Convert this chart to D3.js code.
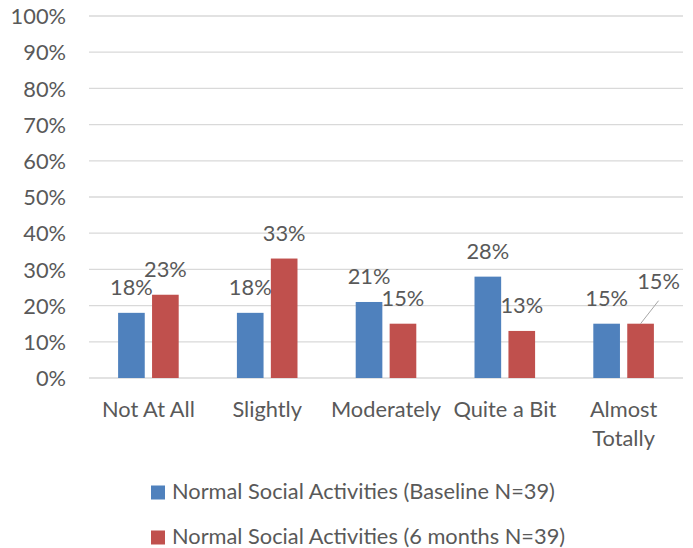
<!DOCTYPE html>
<html>
<head>
<meta charset="utf-8">
<script src="https://cdn.jsdelivr.net/npm/d3@7"></script>
<style>
  html, body { margin: 0; padding: 0; background: #ffffff; }
  svg { display: block; }
  text { font-family: Lato, "Liberation Sans", sans-serif; fill: #595959; }
</style>
</head>
<body>
<svg id="chart" width="693" height="548"></svg>
<script>
const categories = ["Not At All", "Slightly", "Moderately", "Quite a Bit", "Almost Totally"];
const seriesNames = ["Normal Social Activities (Baseline N=39)", "Normal Social Activities (6 months N=39)"];
const baseline = [18, 18, 21, 28, 15];
const sixMonths = [23, 33, 15, 13, 15];
const yTicks = [0, 10, 20, 30, 40, 50, 60, 70, 80, 90, 100];
const colors = ["#4F81BD", "#C0504D"];

const svg = d3.select("#chart");
const plotLeft = 89, plotRight = 683, plotTop = 16, plotBottom = 378;
const fontSize = 21.8;

const x0 = d3.scaleBand().domain(categories).range([plotLeft, plotRight]).paddingInner(0.49).paddingOuter(0.245);
const x1 = d3.scaleBand().domain([0, 1]).range([0, x0.bandwidth()]).paddingInner(0.215);
const y = d3.scaleLinear().domain([0, 100]).range([plotBottom, plotTop]);

// gridlines
svg.append("g").selectAll("line").data(yTicks).join("line")
  .attr("x1", plotLeft).attr("x2", plotRight)
  .attr("y1", d => y(d)).attr("y2", d => y(d))
  .attr("stroke", "#D9D9D9").attr("stroke-width", 1.3);

// y axis labels
const yAxis = d3.axisLeft(y).tickValues(yTicks).tickFormat(d => d + "%").tickSize(0).tickPadding(0);
const yg = svg.append("g").attr("transform", `translate(66,0)`).call(yAxis);
yg.select(".domain").remove();
yg.attr("font-family", null).attr("font-size", null);
yg.selectAll("text").attr("font-size", fontSize).style("fill", "#595959").attr("dy", "0.35em");

// x axis labels
const xAxis = d3.axisBottom(x0).tickSize(0).tickPadding(0);
const xg = svg.append("g").attr("transform", `translate(0,${plotBottom})`).call(xAxis);
xg.select(".domain").remove();
xg.attr("font-family", null).attr("font-size", null);
xg.selectAll("text").attr("font-size", fontSize).style("fill", "#595959")
  .attr("y", 0).attr("dy", 0)
  .each(function(d) {
    const t = d3.select(this);
    t.text(null);
    const lines = d === "Almost Totally" ? ["Almost", "Totally"] : [d];
    lines.forEach((ln, i) => t.append("tspan").attr("x", 0).attr("y", 39 + i * 29).text(ln));
  });

const series = [baseline, sixMonths];
const data = [];
categories.forEach((c, i) => series.forEach((s, j) => data.push({cat: c, s: j, v: s[i]})));

svg.append("g").selectAll("rect").data(data).join("rect")
  .attr("x", d => x0(d.cat) + x1(d.s))
  .attr("width", x1.bandwidth())
  .attr("y", d => y(d.v))
  .attr("height", d => y(0) - y(d.v))
  .attr("fill", d => colors[d.s]);

// data labels
const lg = svg.append("g");
data.forEach((d) => {
  const cx = x0(d.cat) + x1(d.s) + x1.bandwidth() / 2;
  const ty = y(d.v);
  let lx = cx, ly = ty - 18;
  const isShifted = d.cat === "Almost Totally" && d.s === 1;
  if (isShifted) {
    lx = cx + 18; ly = ty - 35;
    lg.append("line").attr("x1", cx).attr("y1", ty)
      .attr("x2", cx + 18).attr("y2", ty - 23)
      .attr("stroke", "#A6A6A6").attr("stroke-width", 1);
  }
  lg.append("text").attr("x", lx).attr("y", ly).attr("text-anchor", "middle")
    .attr("font-size", fontSize).text(d.v + "%");
});

// legend
const leg = svg.append("g");
seriesNames.forEach((name, i) => {
  const yy = 499 + i * 45;
  leg.append("rect").attr("x", 151).attr("y", yy - 13.5).attr("width", 14).attr("height", 14).attr("fill", colors[i]);
  leg.append("text").attr("x", 172).attr("y", yy).attr("font-size", fontSize).text(name);
});
</script>
</body>
</html>
